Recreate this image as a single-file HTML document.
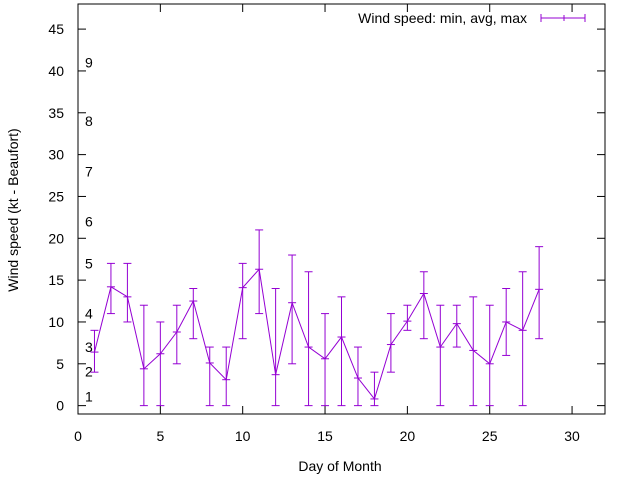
<!DOCTYPE html>
<html><head><meta charset="utf-8"><style>
body{margin:0;background:#fff}
svg{display:block;font-family:"Liberation Sans",sans-serif}
</style></head><body>
<svg id="chart" width="640" height="480" viewBox="0 0 640 480">
<rect width="640" height="480" fill="#fff"/>
<g id="grid"></g>
<g id="marks"></g>
<text transform="translate(18,210) rotate(-90)" text-anchor="middle" font-size="14">Wind speed (kt - Beaufort)</text>
<text x="340" y="471" text-anchor="middle" font-size="14">Day of Month</text>
<g>
<text x="527" y="23" text-anchor="end" font-size="14">Wind speed: min, avg, max</text>
<g stroke="#9400d3" stroke-width="1">
<line x1="541" y1="18" x2="585" y2="18"/><line x1="541" y1="14" x2="541" y2="22"/><line x1="585" y1="14" x2="585" y2="22"/><line x1="564" y1="15" x2="564" y2="21"/>
</g></g>
</svg>
<script>
const days=[1,2,3,4,5,6,7,8,9,10,11,12,13,14,15,16,17,18,19,20,21,22,23,24,25,26,27,28];
const avgs=[6.4,14.2,13,4.4,6.2,8.8,12.5,5.1,3.1,14.1,16.3,3.7,12.3,7,5.6,8.2,3.3,0.8,7.3,10.1,13.4,7,9.8,6.6,5,10,9,13.9];
const mins=[4,11,10,0,0,5,8,0,0,8,11,0,5,0,0,0,0,0,4,9,8,0,7,0,0,6,0,8];
const maxs=[9,17,17,12,10,12,14,7,7,17,21,14,18,16,11,13,7,4,11,12,16,12,12,13,12,14,16,19];
const yTicks=[0,5,10,15,20,25,30,35,40,45];
const xTicks=[0,5,10,15,20,25,30];
const beaufortLabels=["1","2","3","4","5","6","7","8","9"];
const beaufortValues=[1.1,4.1,7,11,17,22,28,34,41];
const L=78,R=605,T=4,B=414;
const X=v=>L+(v-0)*(R-L)/32;
const Y=v=>B-(v+1)*(B-T)/49;
const NS="http://www.w3.org/2000/svg";
function mk(tag,attrs,parent){const e=document.createElementNS(NS,tag);for(const k in attrs)e.setAttribute(k,attrs[k]);parent.appendChild(e);return e;}
const g=document.getElementById('grid'),m=document.getElementById('marks');
const frame=mk('rect',{x:L,y:T,width:R-L,height:B-T,fill:'none',stroke:'#000','stroke-width':1},g);


yTicks.forEach(v=>{const y=Y(v);
mk('line',{x1:L,y1:y,x2:L+8,y2:y,stroke:'#000'},g);mk('line',{x1:R,y1:y,x2:R-8,y2:y,stroke:'#000'},g);
const t=mk('text',{x:L-14,y:y+5,'text-anchor':'end','font-size':14},g);t.textContent=v;

});
xTicks.forEach(v=>{const x=X(v);
mk('line',{x1:x,y1:B,x2:x,y2:B-8,stroke:'#000'},g);mk('line',{x1:x,y1:T,x2:x,y2:T+8,stroke:'#000'},g);
const t=mk('text',{x:x,y:441,'text-anchor':'middle','font-size':14},g);t.textContent=v;

});
beaufortLabels.forEach((s,i)=>{const t=mk('text',{x:85,y:Y(beaufortValues[i])+5,'font-size':14},g);t.textContent=s;

});
const pts=days.map((d,i)=>X(d)+','+Y(avgs[i])).join(' ');
const line=mk('polyline',{points:pts,fill:'none',stroke:'#9400d3','stroke-width':1},m);


days.forEach((d,i)=>{const x=X(d);
const eb=mk('g',{stroke:'#9400d3','stroke-width':1},m);


mk('line',{x1:x,y1:Y(mins[i]),x2:x,y2:Y(maxs[i])},eb);
mk('line',{x1:x-4,y1:Y(mins[i]),x2:x+4,y2:Y(mins[i])},eb);
mk('line',{x1:x-4,y1:Y(maxs[i]),x2:x+4,y2:Y(maxs[i])},eb);
mk('line',{x1:x-4,y1:Y(avgs[i]),x2:x+4,y2:Y(avgs[i])},eb);});
</script>
</body></html>
